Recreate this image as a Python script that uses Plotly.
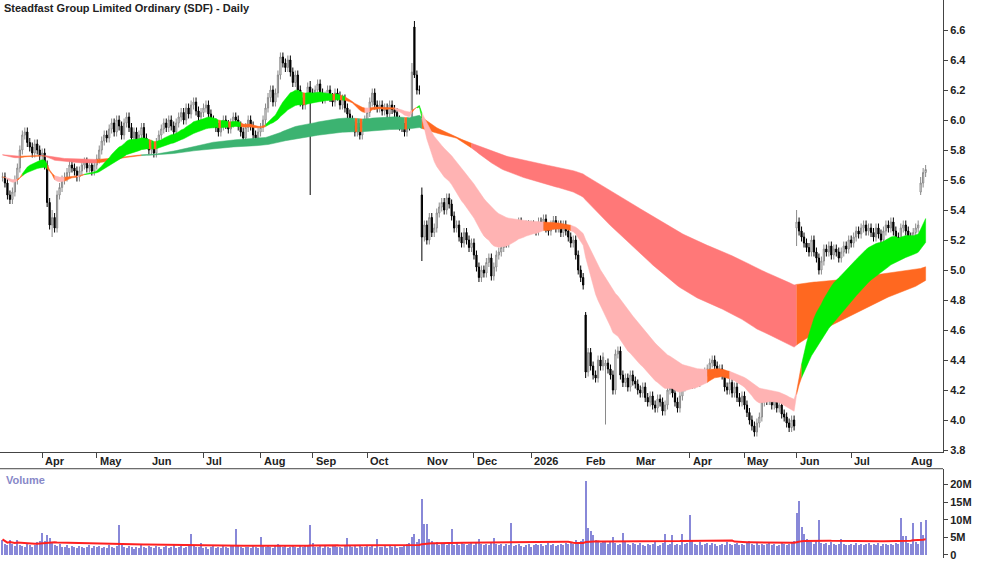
import pandas as pd
import plotly.graph_objects as go

# daily closes per month
c_2025_03 = [5.62, 5.58, 5.50, 5.47, 5.52, 5.60, 5.68, 5.80, 5.90, 5.92, 5.85, 5.82, 5.78, 5.84, 5.80, 5.76]
c_2025_04 = [5.78, 5.70, 5.45, 5.30, 5.35, 5.28, 5.50, 5.55, 5.60, 5.62, 5.65, 5.70, 5.68, 5.66, 5.62, 5.66,
             5.70, 5.72, 5.68, 5.70, 5.66, 5.70]
c_2025_05 = [5.74, 5.80, 5.86, 5.90, 5.88, 5.94, 5.98, 5.92, 6.00, 5.96, 5.90, 5.98, 6.02, 5.95, 5.88, 5.92,
             5.85, 5.90, 5.95, 5.88, 5.84, 5.80]
c_2025_06 = [5.82, 5.78, 5.85, 5.90, 5.94, 5.98, 5.95, 6.00, 5.96, 5.92, 5.98, 6.02, 6.05, 6.00, 6.08, 6.04,
             6.10, 6.12, 6.06, 6.02, 6.05]
c_2025_07 = [6.08, 6.10, 6.04, 6.00, 5.98, 5.95, 5.92, 5.96, 6.00, 5.97, 5.94, 5.98, 6.02, 6.00, 5.96, 5.92,
             5.88, 5.95, 6.00, 5.96, 5.90, 5.88, 5.92]
c_2025_08 = [5.95, 6.00, 6.08, 6.15, 6.20, 6.12, 6.18, 6.30, 6.42, 6.38, 6.35, 6.40, 6.32, 6.25, 6.30, 6.20,
             6.12, 6.10, 6.15, 6.22, 6.18]
c_2025_09 = [6.15, 6.20, 6.24, 6.18, 6.14, 6.16, 6.20, 6.15, 6.12, 6.18, 6.16, 6.10, 6.14, 6.08, 6.04, 6.00,
             5.96, 5.92, 5.95, 5.90, 5.96, 6.00]
c_2025_10 = [6.05, 6.12, 6.18, 6.10, 6.08, 6.10, 6.06, 6.08, 6.04, 6.10, 6.07, 6.05, 6.00, 5.96, 5.95, 5.92,
             5.98, 5.96, 6.32, 6.30, 6.20, 6.20, 5.22]
c_2025_11 = [5.30, 5.20, 5.35, 5.25, 5.28, 5.38, 5.42, 5.45, 5.40, 5.48, 5.44, 5.36, 5.28, 5.30, 5.22, 5.18,
             5.25, 5.20, 5.15, 5.18]
c_2025_12 = [5.10, 5.02, 4.95, 5.00, 4.98, 5.05, 5.08, 4.96, 5.02, 5.10, 5.12, 5.15, 5.20, 5.18, 5.24, 5.28,
             5.25, 5.30, 5.32, 5.28, 5.26, 5.30, 5.28]
c_2026_01 = [5.30, 5.28, 5.26, 5.32, 5.30, 5.34, 5.28, 5.26, 5.30, 5.33, 5.28, 5.30, 5.25, 5.30, 5.26, 5.22,
             5.18, 5.20, 5.10, 5.00, 4.95, 4.90]
c_2026_02 = [4.32, 4.45, 4.36, 4.30, 4.28, 4.40, 4.36, 4.42, 4.38, 4.34, 4.30, 4.20, 4.44, 4.46, 4.30, 4.25,
             4.28, 4.22, 4.30, 4.26]
c_2026_03 = [4.24, 4.20, 4.18, 4.22, 4.15, 4.12, 4.16, 4.10, 4.08, 4.14, 4.12, 4.06, 4.10, 4.20, 4.24, 4.18,
             4.12, 4.08, 4.16, 4.22, 4.26, 4.24]
c_2026_04 = [4.26, 4.24, 4.28, 4.25, 4.30, 4.28, 4.32, 4.34, 4.38, 4.40, 4.36, 4.32, 4.34, 4.30, 4.22, 4.20,
             4.25, 4.18, 4.22, 4.15, 4.12, 4.16]
c_2026_05 = [4.10, 4.05, 4.00, 3.96, 3.92, 3.98, 4.02, 4.12, 4.15, 4.13, 4.16, 4.10, 4.14, 4.08, 4.10, 4.04,
             4.02, 3.98, 3.95, 4.00, 3.96]
c_2026_06 = [5.32, 5.26, 5.22, 5.18, 5.15, 5.12, 5.20, 5.12, 5.08, 5.00, 5.06, 5.14, 5.12, 5.16, 5.10, 5.14,
             5.12, 5.08, 5.12, 5.16, 5.14, 5.20]
c_2026_07 = [5.18, 5.22, 5.26, 5.24, 5.28, 5.30, 5.26, 5.28, 5.25, 5.22, 5.28, 5.24, 5.20, 5.26, 5.30, 5.28,
             5.32, 5.26, 5.22, 5.12, 5.28, 5.30, 5.26]
c_2026_08 = [5.22, 5.20, 5.25, 5.28, 5.30, 5.58, 5.65, 5.67]

# daily volume in millions
v_2025_03 = [4.4, 3.2, 2.8, 4.2, 3.1, 2.6, 4.3, 3.0, 2.5, 2.2, 3.4, 2.8, 2.4, 3.0, 3.6, 4.0]
v_2025_04 = [6.3, 4.0, 5.6, 4.8, 3.5, 2.9, 2.6, 3.1, 2.4, 2.2, 2.8, 2.0, 2.5, 2.3, 1.9, 2.6, 2.2, 2.0, 2.4, 2.8, 2.1, 2.5]
v_2025_05 = [2.2, 2.6, 1.9, 2.4, 2.1, 2.8, 2.3, 2.0, 2.5, 8.5, 3.2, 2.4, 2.1, 2.6, 2.2, 1.8, 2.4, 2.0, 2.9, 2.3, 2.1, 2.5]
v_2025_06 = [2.3, 2.0, 2.6, 2.2, 1.8, 2.4, 2.7, 2.1, 2.3, 2.9, 2.0, 2.2, 2.5, 1.9, 2.3, 2.6, 5.9, 2.8, 2.2, 2.4, 3.4]
v_2025_07 = [2.1, 2.4, 1.8, 2.2, 2.6, 2.0, 2.3, 1.9, 2.5, 2.2, 2.1, 2.7, 3.0, 7.4, 2.6, 2.3, 2.0, 2.4, 2.2, 1.9, 2.5,
             2.3, 2.1]
v_2025_08 = [5.1, 2.6, 2.2, 2.9, 2.4, 2.0, 2.7, 3.1, 2.5, 2.3, 2.8, 2.1, 2.4, 2.6, 2.2, 2.0, 2.5, 2.3, 2.8, 3.0, 8.6]
v_2025_09 = [3.5, 2.4, 2.2, 2.7, 2.0, 2.5, 2.3, 2.1, 2.6, 2.9, 2.2, 2.4, 2.0, 2.7, 4.9, 2.5, 2.3, 2.6, 2.1, 2.8, 2.4, 2.2]
v_2025_10 = [2.5, 2.3, 2.7, 2.1, 4.6, 2.4, 2.2, 2.6, 2.0, 2.5, 2.3, 2.7, 2.1, 2.4, 2.2, 2.8, 3.2, 3.5, 5.2, 6.0, 3.8,
             4.5, 16.0]
v_2025_11 = [8.8, 8.8, 4.5, 3.9, 3.2, 3.6, 2.9, 3.4, 3.1, 2.8, 3.3, 7.5, 3.0, 3.4, 2.9, 3.6, 3.2, 2.8, 3.1, 3.5]
v_2025_12 = [3.0, 3.4, 4.6, 3.1, 2.8, 3.3, 2.9, 3.5, 4.8, 3.2, 2.9, 3.1, 2.7, 3.3, 3.0, 9.0, 2.6, 2.8, 3.1, 2.5, 2.2,
             2.9, 3.2]
v_2026_01 = [2.4, 2.8, 3.1, 2.9, 3.3, 2.7, 3.0, 3.4, 2.8, 3.1, 2.6, 3.0, 3.3, 2.9, 3.5, 3.1, 3.8, 3.2, 4.3, 3.6, 3.9, 4.5]
v_2026_02 = [21.0, 7.8, 6.9, 5.6, 4.4, 3.9, 3.5, 4.0, 3.6, 3.2, 3.8, 5.2, 3.4, 3.0, 3.3, 6.3, 3.6, 3.1, 2.9, 3.4]
v_2026_03 = [3.2, 2.9, 3.5, 3.0, 2.7, 3.3, 2.8, 3.1, 3.6, 2.6, 3.0, 3.4, 6.0, 2.9, 3.2, 5.7, 3.0, 3.3, 2.8, 5.9, 3.1, 3.4]
v_2026_04 = [11.5, 4.2, 3.3, 3.0, 3.6, 2.8, 3.2, 3.5, 2.9, 3.4, 3.1, 2.7, 3.0, 3.3, 2.9, 3.6, 3.2, 2.8, 3.1, 3.4, 2.9,
             3.2]
v_2026_05 = [3.0, 3.5, 4.1, 3.2, 2.9, 3.6, 3.0, 3.3, 2.8, 3.1, 3.4, 2.9, 3.2, 2.7, 3.0, 3.5, 3.1, 2.8, 3.3, 3.6, 4.0]
v_2026_06 = [12.0, 15.5, 8.0, 6.0, 4.5, 3.8, 3.6, 3.2, 3.9, 10.0, 3.5, 3.1, 3.4, 3.0, 3.7, 3.2, 2.9, 3.3, 4.6, 3.1,
             2.8, 3.0]
v_2026_07 = [3.2, 2.9, 3.4, 3.0, 3.3, 2.8, 3.1, 3.5, 2.9, 3.2, 3.0, 3.4, 2.7, 3.1, 3.3, 2.9, 3.2, 3.0, 3.4, 3.1, 10.5,
             5.5, 5.3]
v_2026_08 = [3.4, 3.2, 9.0, 3.6, 3.3, 9.5, 5.8, 10.0]

# days with gaps / long wicks: date -> (open, high, low)
specials = {
    "2025-04-07": (5.30, 5.40, 5.22),
    "2025-08-29": (6.22, 6.26, 5.50),
    "2025-10-27": (5.98, 6.38, 5.96),
    "2025-10-28": (6.62, 6.66, 6.28),
    "2025-10-31": (5.50, 5.55, 5.06),
    "2026-02-02": (4.70, 4.72, 4.28),
    "2026-02-12": (4.36, 4.40, 3.97),
    "2026-06-01": (5.28, 5.40, 5.16),
    "2026-08-10": (5.52, 5.62, 5.50),
}

# ribbon starting levels as seen at the left edge of the chart
short_seed = 5.62
long_seed = 5.77

month_labels = ["Apr", "May", "Jun", "Jul", "Aug", "Sep", "Oct", "Nov", "Dec", "2026",
                "Feb", "Mar", "Apr", "May", "Jun", "Jul", "Aug"]

closes = (c_2025_03 + c_2025_04 + c_2025_05 + c_2025_06 + c_2025_07 + c_2025_08 + c_2025_09 + c_2025_10
          + c_2025_11 + c_2025_12 + c_2026_01 + c_2026_02 + c_2026_03 + c_2026_04 + c_2026_05 + c_2026_06
          + c_2026_07 + c_2026_08)
volumes = (v_2025_03 + v_2025_04 + v_2025_05 + v_2025_06 + v_2025_07 + v_2025_08 + v_2025_09 + v_2025_10
           + v_2025_11 + v_2025_12 + v_2026_01 + v_2026_02 + v_2026_03 + v_2026_04 + v_2026_05 + v_2026_06
           + v_2026_07 + v_2026_08)

dates = pd.bdate_range("2025-03-10", periods=len(closes))
df = pd.DataFrame({"close": closes, "vol": [v * 1e6 for v in volumes[:len(closes)]]}, index=dates)
df["open"] = df["close"].shift(1).fillna(df["close"].iloc[0])
df["high"] = df[["open", "close"]].max(axis=1) + 0.03
df["low"] = df[["open", "close"]].min(axis=1) - 0.03
for d, (o, h, l) in specials.items():
    df.loc[pd.Timestamp(d), ["open", "high", "low"]] = [o, h, l]


def ema(values, span, seed):
    a = 2.0 / (span + 1)
    out, e = [], seed
    for v in values:
        e = e + a * (v - e)
        out.append(e)
    return out


# Guppy-style ribbons
short_spans = [20, 24, 28, 33, 38, 44]
long_spans = [120, 140, 160, 185, 210, 240]
sh = pd.DataFrame({n: ema(closes, n, short_seed) for n in short_spans}, index=dates)
lg = pd.DataFrame({n: ema(closes, n, long_seed) for n in long_spans}, index=dates)

GREEN, DKGREEN, PINK, RED, ORANGE = "#00ee00", "#3cb371", "#ffb3b3", "#ff7878", "#ff6820"


def band_colors(band, up, down):
    cols = []
    for (_, row), c in zip(band.iterrows(), closes):
        v = row.values
        if all(v[i] > v[i + 1] for i in range(len(v) - 1)) and c > v.min():
            cols.append(up)
        elif all(v[i] < v[i + 1] for i in range(len(v) - 1)) and c < v.max():
            cols.append(down)
        else:
            cols.append(ORANGE)
    return cols


def add_band(fig, band, cols):
    top = band.max(axis=1).values
    bot = band.min(axis=1).values
    x = list(band.index)
    i = 0
    while i < len(cols):
        j = i
        while j + 1 < len(cols) and cols[j + 1] == cols[i]:
            j += 1
        k = min(j + 1, len(cols) - 1)
        xs = x[i:k + 1]
        fig.add_trace(go.Scatter(
            x=xs + xs[::-1], y=list(top[i:k + 1]) + list(bot[i:k + 1])[::-1],
            fill="toself", fillcolor=cols[i], line=dict(width=0.5, color=cols[i]),
            mode="lines", hoverinfo="skip", showlegend=False, yaxis="y"))
        i = j + 1


fig = go.Figure()
add_band(fig, lg, band_colors(lg, DKGREEN, RED))
add_band(fig, sh, band_colors(sh, GREEN, PINK))

fig.add_trace(go.Candlestick(
    x=df.index, open=df["open"], high=df["high"], low=df["low"], close=df["close"],
    increasing=dict(fillcolor="white", line=dict(color="#8a8a8a", width=1)),
    decreasing=dict(fillcolor="black", line=dict(color="black", width=1)),
    whiskerwidth=0, showlegend=False, yaxis="y"))

fig.add_trace(go.Bar(x=df.index, y=df["vol"], marker=dict(color="#8888d8", line=dict(width=0)),
                     showlegend=False, yaxis="y2", width=1000 * 3600 * 10))
fig.add_trace(go.Scatter(x=df.index, y=df["vol"].rolling(60, min_periods=1).mean(), mode="lines",
                         line=dict(color="#ff2020", width=2), showlegend=False, yaxis="y2"))

month_starts = pd.date_range("2025-04-01", "2026-08-01", freq="MS")
for m, lab in zip(month_starts, month_labels):
    fig.add_annotation(x=m, y=0.174, xref="x", yref="paper", text=f"<b>{lab}</b>", showarrow=False,
                       xanchor="left", yanchor="middle", xshift=1, font=dict(size=11, color="#222"))

fig.add_annotation(x=0.002, y=1.0, xref="paper", yref="paper", text="<b>Steadfast Group Limited Ordinary (SDF) - Daily</b>",
                   showarrow=False, xanchor="left", yanchor="top", font=dict(size=11, color="#222"))
fig.add_annotation(x=0.004, y=0.155, xref="paper", yref="paper", text="<b>Volume</b>", showarrow=False,
                   xanchor="left", yanchor="top", font=dict(size=11, color="#8888c8"))
fig.add_shape(type="line", xref="paper", yref="paper", x0=0, x1=1, y0=0.16, y1=0.16,
              line=dict(color="#444", width=1))

fig.update_layout(
    width=1000, height=562, margin=dict(l=0, r=57, t=0, b=0),
    paper_bgcolor="white", plot_bgcolor="white",
    font=dict(family="Liberation Sans, Arial", size=11, color="#222"),
    bargap=0, showlegend=False,
    xaxis=dict(range=[pd.Timestamp("2025-03-09"), pd.Timestamp("2026-08-21")],
               rangebreaks=[dict(bounds=["sat", "mon"])], rangeslider=dict(visible=False),
               tickvals=list(month_starts), showticklabels=False, ticks="outside", ticklen=5,
               tickcolor="#444", showline=True, linecolor="#444", showgrid=False, anchor="y"),
    yaxis=dict(domain=[0.19, 1], side="right", range=[3.787, 6.8], tickvals=[3.8 + 0.2 * i for i in range(15)],
               ticktext=[f"<b>{3.8 + 0.2 * i:.1f}</b>" for i in range(15)],
               ticks="outside", ticklen=4, showline=True, linecolor="#444", showgrid=False,
               tickfont=dict(size=11, color="#222"), zeroline=False),
    yaxis2=dict(domain=[0, 0.16], side="right", range=[-0.9e6, 24.5e6], tickvals=[0, 5e6, 10e6, 15e6, 20e6],
                ticktext=["<b>0</b>", "<b>5M</b>", "<b>10M</b>", "<b>15M</b>", "<b>20M</b>"],
                ticks="outside", ticklen=4, showline=True, linecolor="#444", showgrid=False, zeroline=False,
                anchor="x"),
)

fig.write_html("out.html", config={"displayModeBar": False},
               post_script="document.body.style.margin='0';")
